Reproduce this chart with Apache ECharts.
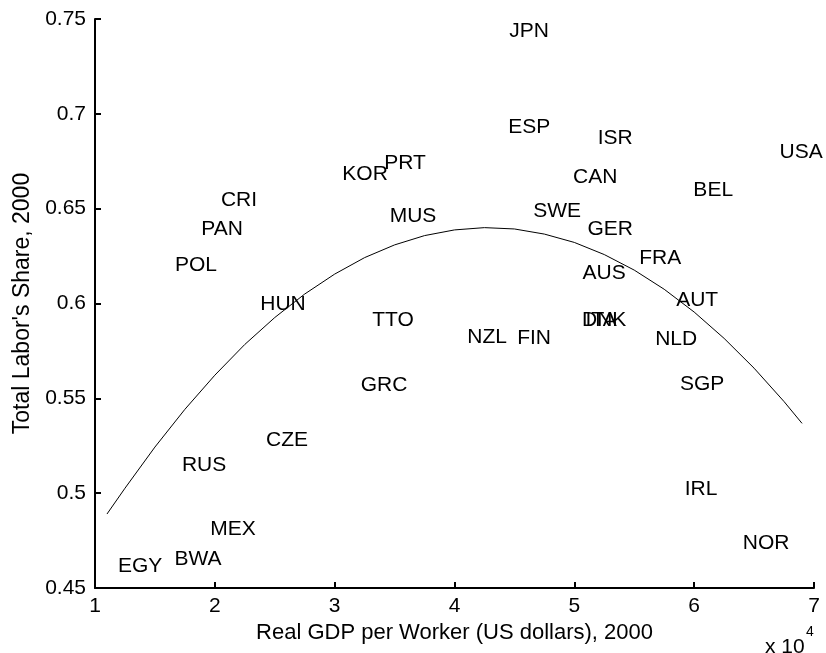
<!DOCTYPE html>
<html>
<head>
<meta charset="utf-8">
<script src="https://cdn.jsdelivr.net/npm/echarts@6/dist/echarts.min.js"></script>
<style>
  html, body { margin: 0; padding: 0; background: #fff; }
  #chart { width: 826px; height: 653px; }
</style>
</head>
<body>
<div id="chart"></div>
<script>
// Country codes, real GDP per worker (US$, 2000) and total labor share (2000)
const countries = ['JPN','ESP','PRT','KOR','MUS','SWE','ISR','CAN','BEL','USA','GER','FRA','AUS','AUT','DNK','ITA',
  'CRI','PAN','POL','HUN','TTO','NZL','FIN','GRC','CZE','RUS','MEX','BWA','EGY','NLD','SGP','IRL','NOR'];
const gdpPerWorker = [46230, 46230, 35880, 32540, 36540, 48560, 53410, 51740, 61590, 68930, 52990, 57160, 52490, 60250, 52490, 52240,
  22020, 20600, 18430, 25690, 34870, 42720, 46640, 34120, 26030, 19100, 21520, 18600, 13760, 58500, 60670, 60580, 66010];
const laborShare = [0.7437, 0.6932, 0.6741, 0.6683, 0.6461, 0.6488, 0.6873, 0.6667, 0.6598, 0.6799, 0.6393, 0.6240, 0.6161, 0.6018, 0.5913, 0.5913,
  0.6546, 0.6393, 0.6203, 0.5997, 0.5913, 0.5823, 0.5818, 0.5570, 0.5280, 0.5149, 0.4811, 0.4653, 0.4616, 0.5813, 0.5576, 0.5022, 0.4737];

// Quadratic trend line, sampled along its length
const trendX = [11000, 12500, 15000, 17500, 20000, 22500, 25000, 27500, 30000, 32500, 35000, 37500, 40000,
  42500, 45000, 47500, 50000, 52500, 55000, 57500, 60000, 62500, 65000, 67500, 69000];
const trendY = [0.4890, 0.5026, 0.5243, 0.5442, 0.5622, 0.5784, 0.5926, 0.6050, 0.6155, 0.6242, 0.6309, 0.6358, 0.6388,
  0.6400, 0.6393, 0.6366, 0.6322, 0.6258, 0.6176, 0.6075, 0.5955, 0.5816, 0.5659, 0.5483, 0.5368];

// Axis ticks
const xTicks = [10000, 70000, 10000];   // min, max, step
const yTicks = [0.45, 0.75, 0.05];

const FONT = '"Liberation Sans", Arial, Helvetica, sans-serif';
const FS = 21;

const points = countries.map((c, i) => ({ name: c, value: [gdpPerWorker[i], laborShare[i]] }));
const trend = trendX.map((x, i) => [x, trendY[i]]);

const chart = echarts.init(document.getElementById('chart'), null, { renderer: 'canvas' });
chart.setOption({
  animation: false,
  backgroundColor: '#ffffff',
  textStyle: { fontFamily: FONT },
  grid: { left: 95, right: 12, top: 19, bottom: 65, containLabel: false },
  xAxis: {
    type: 'value',
    min: xTicks[0], max: xTicks[1], interval: xTicks[2],
    name: 'Real GDP per Worker (US dollars), 2000',
    nameLocation: 'middle',
    nameGap: 33,
    nameTextStyle: { color: '#000', fontSize: 22, fontFamily: FONT },
    axisLine: { show: true, lineStyle: { color: '#000', width: 2 } },
    axisTick: { show: true, inside: true, length: 6, lineStyle: { color: '#000', width: 2 } },
    axisLabel: { color: '#000', fontSize: FS, fontFamily: FONT, margin: 8,
      formatter: v => String(v / 10000) },
    splitLine: { show: false }
  },
  yAxis: {
    type: 'value',
    min: yTicks[0], max: yTicks[1], interval: yTicks[2],
    name: "Total Labor's Share, 2000",
    nameLocation: 'middle',
    nameGap: 61,
    nameTextStyle: { color: '#000', fontSize: 23, fontFamily: FONT },
    axisLine: { show: true, lineStyle: { color: '#000', width: 2 } },
    axisTick: { show: true, inside: true, length: 6, lineStyle: { color: '#000', width: 2 } },
    axisLabel: { color: '#000', fontSize: FS, fontFamily: FONT, margin: 9,
      formatter: v => String(+v.toFixed(2)) },
    splitLine: { show: false }
  },
  graphic: [
    { type: 'text', left: 765, top: 637,
      style: { text: 'x 10', fill: '#000', font: `${FS}px ${FONT}` } },
    { type: 'text', left: 806, top: 625,
      style: { text: '4', fill: '#000', font: `14px ${FONT}` } }
  ],
  series: [
    {
      type: 'line',
      data: trend,
      smooth: false,
      showSymbol: false,
      lineStyle: { color: '#000', width: 1 },
      silent: true,
      z: 2
    },
    {
      type: 'scatter',
      data: points,
      symbolSize: 0,
      itemStyle: { color: '#000', opacity: 1 },
      label: {
        show: true,
        position: [0, 0],
        align: 'center',
        verticalAlign: 'middle',
        formatter: p => p.name,
        color: '#000',
        opacity: 1,
        textBorderWidth: 0,
        fontSize: FS,
        fontFamily: FONT
      },
      z: 3
    }
  ]
});
</script>
</body>
</html>
